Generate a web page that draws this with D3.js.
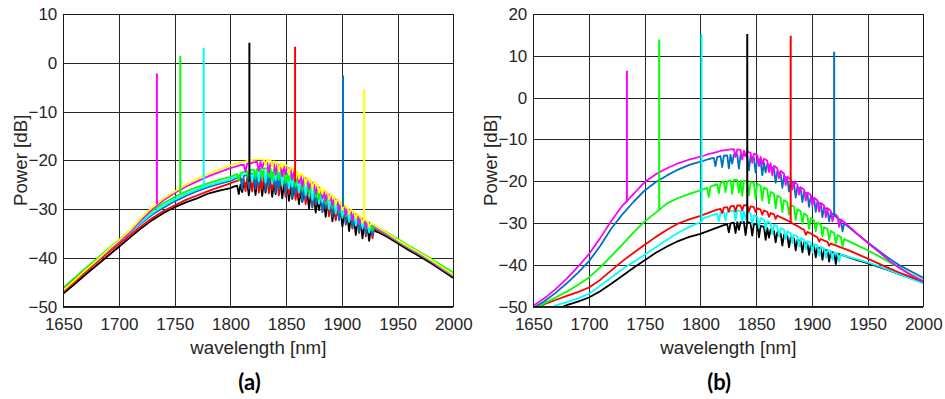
<!DOCTYPE html>
<html><head><meta charset="utf-8">
<script src="https://cdn.jsdelivr.net/npm/d3@7"></script>
<style>body{margin:0;background:#fff}svg{display:block}</style>
</head><body>
<svg id="c" width="945" height="399"></svg>
<script>
// shared wavelength sampling (nm)
const wavelengths = [1650,1660,1670,1680,1690,1700,1710,1720,1730,1740,1750,1760,1770,1780,1790,1800,
1803,1806,1809,1812,1815,1818,1821,1824,1827,1830,1833,1836,1839,1842,1845,1848,1851,1854,1857,1860,1863,1866,1869,1872,1875,1878,1881,1884,1887,1890,1893,1896,1899,1902,1905,1908,1911,1914,1917,1920,1923,1926,1929,1932,
1940,1950,1960,1970,1980,1990,2000];

const xTicks = [1650,1700,1750,1800,1850,1900,1950,2000];
const yTicksA = [-50,-40,-30,-20,-10,0,10];
const yTicksB = [-50,-40,-30,-20,-10,0,10,20];

// ---- panel (a) spectra (dB): envelope + narrow ripple dips [nm, dB] ----
const aBlack = [-47.3,-45.4,-43.4,-41.5,-39.6,-37.7,-35.8,-33.9,-32.2,-30.8,-29.6,-28.6,-27.8,-26.8,-26.2,-25.7,
-25.4,-25.2,-25.0,-24.8,-24.6,-24.5,-24.4,-24.3,-24.3,-24.3,-24.3,-24.4,-24.5,-24.7,-24.8,-25.0,-25.2,-25.4,-25.7,-26.0,-26.3,-26.6,-26.9,-27.2,-27.5,-27.9,-28.2,-28.6,-29.0,-29.4,-29.8,-30.2,-30.6,-31.0,-31.4,-31.8,-32.2,-32.6,-33.0,-33.4,-33.8,-34.1,-34.4,-34.7,
-35.6,-37.0,-38.4,-39.7,-41.1,-42.6,-44.1];
const aBlackDips = [[1807.5,-26.9],[1810.5,-26.5],[1816.5,-27.2],[1822.5,-27.1],[1828.5,-27.3],[1831.5,-26.6],[1837.5,-27.5],[1840.5,-26.9],[1846.5,-27.8],[1852.5,-28.3],[1855.5,-27.9],[1861.5,-29.0],[1864.5,-28.5],[1870.5,-29.9],[1876.5,-30.7],[1879.5,-30.2],[1885.5,-31.6],[1891.5,-32.5],[1894.5,-32.0],[1900.5,-33.6],[1906.5,-34.5],[1912.5,-35.3],[1918.5,-36.0],[1924.5,-36.5]];

const aRed = [-46.8,-44.9,-42.9,-40.9,-39.0,-37.2,-35.3,-33.5,-31.8,-30.4,-29.2,-28.1,-27.2,-26.3,-25.5,-24.7,
-24.4,-24.2,-24.0,-23.9,-23.7,-23.6,-23.5,-23.4,-23.4,-23.5,-23.5,-23.6,-23.8,-24.0,-24.1,-24.3,-24.5,-24.7,-25.0,-25.3,-25.6,-26.0,-26.3,-26.6,-26.9,-27.3,-27.6,-28.0,-28.4,-28.8,-29.2,-29.6,-30.0,-30.4,-30.8,-31.2,-31.6,-32.0,-32.4,-32.8,-33.2,-33.6,-33.9,-34.3,
-35.3,-36.7,-38.1,-39.4,-40.8,-42.3,-43.8];
const aRedDips = [[1813.5,-26.3],[1819.5,-26.4],[1825.5,-26.6],[1828.5,-25.9],[1834.5,-26.8],[1837.5,-26.1],[1843.5,-27.2],[1849.5,-27.5],[1852.5,-26.9],[1858.5,-28.1],[1861.5,-27.6],[1867.5,-29.0],[1873.5,-29.7],[1876.5,-29.2],[1882.5,-30.6],[1888.5,-31.5],[1894.5,-32.3],[1897.5,-31.8],[1903.5,-33.2],[1909.5,-34.0],[1915.5,-34.9],[1921.5,-35.6],[1927.5,-36.0]];

const aBlue = [-46.4,-44.4,-42.4,-40.5,-38.6,-36.7,-34.8,-32.9,-31.1,-29.7,-28.4,-27.3,-26.3,-25.5,-24.8,-24.2,
-23.9,-23.6,-23.4,-23.2,-23.0,-22.8,-22.7,-22.5,-22.4,-22.5,-22.4,-22.5,-22.6,-22.8,-23.0,-23.2,-23.5,-23.7,-24.1,-24.4,-24.7,-25.1,-25.4,-25.8,-26.2,-26.6,-27.0,-27.4,-27.8,-28.3,-28.7,-29.1,-29.6,-30.0,-30.4,-30.9,-31.3,-31.7,-32.1,-32.6,-33.0,-33.4,-33.7,-34.1,
-35.2,-36.6,-38.0,-39.3,-40.7,-42.2,-43.7];
const aBlueDips = [[1810.5,-25.9],[1816.5,-25.8],[1822.5,-25.9],[1825.5,-25.2],[1831.5,-26.2],[1834.5,-25.4],[1840.5,-26.6],[1843.5,-25.9],[1849.5,-27.0],[1855.5,-27.6],[1858.5,-27.0],[1864.5,-28.5],[1867.5,-27.9],[1873.5,-29.6],[1876.5,-28.9],[1882.5,-30.6],[1885.5,-29.9],[1891.5,-31.6],[1897.5,-32.3],[1903.5,-33.0],[1909.5,-33.8],[1915.5,-34.6],[1921.5,-35.2],[1927.5,-35.4]];

const aCyan = [-46.5,-44.5,-42.5,-40.5,-38.6,-36.7,-34.7,-32.7,-30.8,-29.3,-28.0,-26.9,-26.0,-25.2,-24.5,-23.9,
-23.6,-23.3,-23.1,-22.9,-22.7,-22.5,-22.4,-22.2,-22.1,-22.2,-22.1,-22.2,-22.3,-22.5,-22.7,-22.9,-23.2,-23.4,-23.8,-24.1,-24.4,-24.8,-25.2,-25.6,-26.0,-26.4,-26.8,-27.2,-27.6,-28.1,-28.5,-28.9,-29.5,-29.9,-30.3,-30.8,-31.2,-31.6,-32.0,-32.5,-32.9,-33.3,-33.6,-34.0,
-35.1,-36.5,-37.9,-39.2,-40.6,-42.1,-43.6];
const aCyanDips = [[1819.5,-24.4],[1825.5,-24.3],[1831.5,-24.5],[1837.5,-24.8],[1840.5,-24.1],[1846.5,-25.2],[1852.5,-25.8],[1855.5,-25.4],[1861.5,-26.6],[1867.5,-27.2],[1873.5,-28.1],[1879.5,-28.9],[1882.5,-28.6],[1888.5,-30.0],[1894.5,-30.9],[1900.5,-31.8],[1906.5,-32.6],[1912.5,-33.4],[1918.5,-34.0],[1924.5,-34.8]];

const aGreen = [-46.1,-44.1,-42.1,-40.2,-38.2,-36.3,-34.3,-32.2,-30.3,-28.8,-27.5,-26.4,-25.5,-24.7,-24.0,-23.4,
-23.1,-22.8,-22.6,-22.4,-22.2,-22.0,-21.9,-21.7,-21.6,-21.7,-21.6,-21.7,-21.8,-22.0,-22.2,-22.4,-22.7,-22.9,-23.3,-23.7,-24.0,-24.4,-24.8,-25.2,-25.6,-26.0,-26.4,-26.9,-27.3,-27.8,-28.2,-28.6,-29.2,-29.6,-30.0,-30.5,-30.9,-31.3,-31.7,-32.2,-32.6,-33.0,-33.3,-33.7,
-34.7,-36.1,-37.5,-38.8,-40.2,-41.6,-43.0];
const aGreenDips = [[1807.5,-24.1],[1816.5,-23.7],[1822.5,-23.5],[1828.5,-23.8],[1834.5,-23.4],[1837.5,-24.0],[1843.5,-24.0],[1849.5,-24.6],[1852.5,-24.2],[1858.5,-25.4],[1864.5,-26.1],[1870.5,-26.9],[1876.5,-27.6],[1879.5,-28.0],[1885.5,-28.9],[1891.5,-29.8],[1897.5,-30.6],[1903.5,-31.4],[1909.5,-32.3],[1915.5,-33.0],[1921.5,-33.9],[1927.5,-34.4]];

const aMagenta = [-46.5,-44.5,-42.5,-40.5,-38.6,-36.7,-34.6,-32.2,-30.0,-28.2,-26.7,-25.4,-24.3,-23.3,-22.4,-21.6,
-21.4,-21.2,-21.0,-20.9,-20.7,-20.6,-20.4,-20.3,-20.3,-20.4,-20.4,-20.5,-20.6,-20.8,-21.0,-21.2,-21.5,-21.8,-22.2,-22.6,-23.0,-23.5,-23.9,-24.4,-24.8,-25.3,-25.8,-26.3,-26.8,-27.3,-27.8,-28.3,-28.9,-29.4,-29.9,-30.4,-30.9,-31.3,-31.8,-32.3,-32.7,-33.2,-33.5,-33.9,
-35.0,-36.4,-37.8,-39.1,-40.5,-42.0,-43.5];
const aMagentaDips = [[1813.5,-22.3],[1825.5,-22.2],[1828.5,-21.6],[1834.5,-22.5],[1840.5,-22.9],[1846.5,-23.3],[1849.5,-22.8],[1855.5,-24.0],[1861.5,-24.6],[1864.5,-25.4],[1870.5,-25.9],[1876.5,-26.9],[1882.5,-27.8],[1885.5,-28.4],[1891.5,-29.3],[1897.5,-30.4],[1903.5,-31.2],[1909.5,-32.3],[1915.5,-33.0],[1921.5,-33.8]];

const aYellow = [-46.6,-44.6,-42.5,-40.5,-38.4,-36.4,-34.3,-31.8,-29.6,-27.8,-26.4,-25.0,-23.8,-22.8,-21.9,-21.0,
-20.8,-20.6,-20.4,-20.3,-20.1,-20.0,-19.9,-19.8,-19.8,-19.9,-19.9,-20.0,-20.2,-20.4,-20.6,-20.8,-21.1,-21.4,-21.8,-22.3,-22.7,-23.2,-23.6,-24.1,-24.5,-25.0,-25.5,-26.0,-26.5,-27.0,-27.5,-28.0,-28.6,-29.1,-29.6,-30.1,-30.6,-31.0,-31.5,-32.0,-32.4,-32.9,-33.3,-33.7,
-34.8,-36.3,-37.7,-39.0,-40.4,-41.9,-43.4];
const aYellowDips = [[1831.5,-21.0],[1837.5,-21.3],[1843.5,-21.9],[1846.5,-21.6],[1852.5,-22.6],[1858.5,-23.4],[1861.5,-23.8],[1867.5,-24.8],[1873.5,-25.6],[1879.5,-26.6],[1882.5,-26.9],[1888.5,-28.0],[1894.5,-29.0],[1900.5,-30.2],[1906.5,-31.0],[1912.5,-31.9],[1918.5,-32.8],[1924.5,-33.6]];

// laser lines (a): magenta, green, cyan, black, red, blue, yellow
const spikeWlA   = [1734, 1755, 1776, 1817, 1858, 1901, 1920];
const spikePeakA = [-2.2, 1.4, 3.1, 4.1, 3.3, -2.6, -5.4];
const spikeBaseA = [-29.0, -27.0, -25.5, -24.4, -24.5, -29.5, -32.0];

// ---- panel (b) spectra (dB): envelope + narrow ripple dips [nm, dB] ----
const bBlack = [-54.0,-52.4,-50.8,-49.6,-48.8,-47.8,-46.3,-44.5,-42.6,-40.7,-38.9,-37.1,-35.6,-34.3,-33.3,-32.6,
-32.3,-32.0,-31.7,-31.4,-31.1,-30.8,-30.5,-30.3,-30.1,-29.9,-29.8,-29.8,-29.7,-29.8,-30.0,-30.2,-30.4,-30.7,-30.9,-31.2,-31.5,-31.9,-32.2,-32.5,-32.8,-33.1,-33.4,-33.7,-34.0,-34.3,-34.6,-34.9,-35.2,-35.5,-35.8,-36.1,-36.4,-36.6,-36.9,-37.1,-37.3,-37.6,-37.8,-38.1,
-38.8,-39.6,-40.5,-41.4,-42.4,-43.3,-44.2];
const bBlackDips = [[1825.5,-32.2],[1831.5,-32.4],[1834.5,-31.6],[1840.5,-32.9],[1846.5,-33.0],[1852.5,-33.4],[1858.5,-34.0],[1861.5,-33.5],[1867.5,-34.6],[1873.5,-35.4],[1879.5,-35.8],[1885.5,-36.5],[1891.5,-37.0],[1897.5,-37.6],[1903.5,-38.2],[1909.5,-38.8],[1915.5,-39.2],[1921.5,-39.8]];

const bCyan = [-53.5,-51.6,-49.7,-48.9,-48.0,-46.9,-45.0,-43.0,-41.0,-39.3,-37.6,-35.8,-34.0,-32.3,-30.9,-29.8,
-28.8,-28.5,-28.3,-28.0,-27.8,-27.6,-27.4,-27.3,-27.1,-27.0,-27.0,-27.1,-27.2,-27.4,-27.7,-28.1,-28.5,-28.8,-29.2,-29.6,-30.0,-30.4,-30.8,-31.2,-31.6,-32.0,-32.4,-32.8,-33.2,-33.6,-34.0,-34.3,-34.7,-35.0,-35.4,-35.7,-36.1,-36.4,-36.7,-37.0,-37.3,-37.5,-37.8,-38.0,
-38.6,-39.4,-40.3,-41.3,-42.4,-43.4,-44.4];
const bCyanDips = [[1816.5,-29.6],[1822.5,-29.4],[1831.5,-29.3],[1837.5,-29.8],[1840.5,-29.0],[1846.5,-30.4],[1852.5,-31.0],[1858.5,-31.6],[1864.5,-32.6],[1870.5,-33.2],[1876.5,-33.9],[1882.5,-34.8],[1888.5,-35.6],[1894.5,-36.3],[1900.5,-37.0],[1906.5,-37.8],[1912.5,-38.3],[1918.5,-38.8],[1924.5,-39.2]];

const bRed = [-51.0,-49.4,-48.4,-47.4,-46.5,-45.4,-43.6,-41.3,-39.1,-37.1,-35.2,-33.3,-31.6,-30.1,-29.1,-28.3,
-28.0,-27.7,-27.4,-27.1,-26.8,-26.6,-26.3,-26.2,-26.0,-25.9,-25.8,-25.8,-25.7,-25.8,-26.0,-26.2,-26.5,-26.8,-27.0,-27.3,-27.6,-27.9,-28.2,-28.6,-29.0,-29.4,-29.8,-30.3,-30.7,-31.2,-31.6,-32.1,-32.5,-33.0,-33.4,-33.8,-34.2,-34.5,-34.9,-35.2,-35.5,-35.8,-36.1,-36.4,
-37.3,-38.5,-39.7,-40.9,-42.0,-43.0,-44.0];
const bRedDips = [[1819.5,-27.6],[1825.5,-27.3],[1831.5,-27.2],[1837.5,-27.0],[1843.5,-27.2],[1849.5,-27.4],[1855.5,-28.0],[1861.5,-28.5],[1867.5,-29.0],[1894.5,-32.8],[1906.5,-34.4],[1915.5,-35.4]];

const bGreen = [-50.8,-49.2,-47.8,-46.4,-44.8,-43.0,-40.6,-37.9,-35.1,-32.2,-29.6,-27.5,-25.3,-24.0,-23.0,-22.2,
-21.9,-21.6,-21.3,-21.0,-20.7,-20.4,-20.1,-20.0,-19.8,-19.7,-19.7,-19.8,-19.9,-20.0,-20.2,-20.4,-20.6,-21.1,-21.5,-22.0,-22.5,-23.0,-23.4,-24.0,-24.5,-25.0,-25.6,-26.1,-26.7,-27.2,-27.7,-28.3,-28.8,-29.4,-29.9,-30.4,-31.0,-31.4,-31.9,-32.4,-32.9,-33.3,-33.8,-34.2,
-35.2,-36.5,-37.9,-39.4,-40.9,-42.4,-43.8];
const bGreenDips = [[1807.5,-23.8],[1816.5,-22.9],[1822.5,-22.6],[1828.5,-23.0],[1834.5,-22.7],[1837.5,-23.5],[1843.5,-23.4],[1849.5,-24.2],[1855.5,-24.6],[1861.5,-25.3],[1867.5,-26.5],[1873.5,-27.4],[1879.5,-28.0],[1885.5,-29.3],[1891.5,-30.2],[1897.5,-31.4],[1903.5,-32.0],[1909.5,-33.2],[1915.5,-34.0],[1921.5,-35.0],[1927.5,-35.6]];

const bBlue = [-50.3,-48.7,-46.7,-44.4,-41.9,-39.1,-35.5,-31.3,-27.9,-24.9,-22.2,-20.2,-18.6,-17.2,-16.1,-15.3,
-15.1,-14.8,-14.6,-14.4,-14.2,-14.0,-13.9,-13.8,-13.7,-13.6,-13.6,-13.7,-13.8,-13.9,-14.1,-14.4,-14.6,-15.1,-15.5,-15.9,-16.5,-17.0,-17.6,-18.2,-18.8,-19.4,-20.0,-20.6,-21.3,-21.9,-22.5,-23.1,-23.7,-24.3,-24.9,-25.6,-26.2,-26.8,-27.5,-28.1,-28.8,-29.4,-30.1,-30.7,
-32.5,-34.6,-36.6,-38.6,-40.3,-41.7,-43.1];
const bBlueDips = [[1813.5,-16.4],[1819.5,-16.6],[1825.5,-16.9],[1828.5,-15.8],[1834.5,-17.0],[1843.5,-17.4],[1849.5,-17.9],[1855.5,-18.6],[1858.5,-17.9],[1867.5,-20.4],[1873.5,-21.6],[1879.5,-22.5],[1885.5,-23.9],[1891.5,-25.0],[1897.5,-26.1],[1903.5,-27.3],[1909.5,-28.6],[1915.5,-29.6],[1927.5,-32.0]];

const bMagenta = [-49.8,-48.0,-45.8,-43.3,-40.5,-37.4,-33.6,-29.5,-25.8,-23.0,-20.2,-18.3,-16.9,-15.7,-14.8,-14.1,
-13.9,-13.6,-13.4,-13.2,-13.0,-12.7,-12.6,-12.5,-12.4,-12.3,-12.4,-12.5,-12.7,-12.9,-13.2,-13.4,-13.8,-14.2,-14.6,-15.1,-15.7,-16.3,-16.9,-17.5,-18.2,-18.9,-19.5,-20.1,-20.8,-21.4,-22.0,-22.7,-23.3,-23.9,-24.6,-25.2,-25.8,-26.4,-27.1,-27.7,-28.4,-29.1,-29.8,-30.5,
-32.4,-34.7,-36.9,-39.1,-41.0,-42.6,-44.0];
const bMagentaDips = [[1831.5,-14.2],[1837.5,-14.8],[1840.5,-13.9],[1846.5,-15.6],[1852.5,-16.4],[1855.5,-15.9],[1861.5,-17.8],[1864.5,-18.6],[1870.5,-19.3],[1876.5,-20.9],[1882.5,-22.0],[1888.5,-23.2],[1894.5,-24.6],[1900.5,-25.9],[1906.5,-27.3],[1912.5,-28.6],[1918.5,-29.6],[1924.5,-30.9]];

// laser lines (b): magenta, green, cyan, black, red, blue
const spikeWlB   = [1734, 1763, 1801, 1842, 1881, 1920];
const spikePeakB = [6.4, 13.9, 15.2, 15.2, 14.8, 11.0];
const spikeBaseB = [-25.0, -27.0, -29.8, -30.0, -29.9, -28.5];

const C = {black:'#000000', red:'#FF0000', blue:'#0072BD', cyan:'#00FFFF', green:'#00FF00', magenta:'#FF00FF', yellow:'#FFFF00'};

const svg = d3.select('#c');
const FONT = '"Liberation Sans", Arial, Helvetica, sans-serif';

function drawPanel(cfg) {
  const {id, left, right, top, bottom, yDomain, yTicks, series, spikes, tag, tagX} = cfg;
  const x = d3.scaleLinear().domain([1650, 2000]).range([left, right]);
  const y = d3.scaleLinear().domain(yDomain).range([bottom, top]);
  const g = svg.append('g');

  const gx = g.append('g').attr('transform', `translate(0,${bottom})`)
    .call(d3.axisBottom(x).tickValues(xTicks).tickFormat(d3.format('d'))
      .tickSizeInner(-(bottom - top)).tickSizeOuter(0).tickPadding(11.2));
  const gy = g.append('g').attr('transform', `translate(${left},0)`)
    .call(d3.axisLeft(y).tickValues(yTicks).tickFormat(d3.format('d'))
      .tickSizeInner(-(right - left)).tickSizeOuter(0).tickPadding(6));
  [gx, gy].forEach(a => {
    a.select('.domain').remove();
    a.selectAll('line').attr('stroke', '#262626').attr('stroke-width', 1)
      .attr('shape-rendering', 'crispEdges');
    a.selectAll('text').attr('font-family', FONT).attr('font-size', 17).attr('fill', '#262626');
  });

  svg.append('clipPath').attr('id', 'clip' + id)
    .append('rect').attr('x', left).attr('y', top).attr('width', right - left).attr('height', bottom - top);
  const plot = g.append('g').attr('clip-path', `url(#clip${id})`);

  const line = d3.line().x(d => x(d[0])).y(d => y(d[1]));
  series.forEach(s => {
    let pts = wavelengths.map((w, i) => [w, s.values[i]]).filter(d => d[1] !== undefined);
    if (s.dips) pts = pts.concat(s.dips).sort((p, q) => p[0] - q[0]);
    plot.append('path').datum(pts).attr('d', line)
      .attr('fill', 'none').attr('stroke', s.color).attr('stroke-width', 1.8)
      .attr('stroke-linejoin', 'round');
  });
  spikes.wl.forEach((w, i) => {
    plot.append('line')
      .attr('x1', x(w)).attr('x2', x(w))
      .attr('y1', y(spikes.base[i])).attr('y2', y(spikes.peak[i]))
      .attr('stroke', spikes.colors[i]).attr('stroke-width', 2);
  });

  g.append('rect').attr('x', left).attr('y', top).attr('width', right - left).attr('height', bottom - top)
    .attr('fill', 'none').attr('stroke', '#1a1a1a').attr('stroke-width', 1).attr('shape-rendering', 'crispEdges');

  g.append('text').attr('x', (left + right) / 2).attr('y', 354).attr('text-anchor', 'middle')
    .attr('font-family', FONT).attr('font-size', 18.7).attr('fill', '#262626').text('wavelength [nm]');
  g.append('text').attr('transform', `translate(${left - 36.8},${(top + bottom) / 2}) rotate(-90)`)
    .attr('text-anchor', 'middle').attr('font-family', FONT).attr('font-size', 18.7).attr('fill', '#262626')
    .text('Power [dB]');
  g.append('text').attr('x', tagX).attr('y', 389.5).attr('text-anchor', 'middle')
    .attr('font-family', 'Lato, "Open Sans", sans-serif').attr('font-weight', 700).attr('font-size', 22)
    .attr('fill', '#000').text(tag);
}

drawPanel({
  id: 'a', left: 63.3, right: 453.3, top: 14, bottom: 306.7,
  yDomain: [-50, 10], yTicks: yTicksA,
  series: [
    {values: aBlack, dips: aBlackDips, color: C.black}, {values: aRed, dips: aRedDips, color: C.red},
    {values: aBlue, dips: aBlueDips, color: C.blue}, {values: aCyan, dips: aCyanDips, color: C.cyan},
    {values: aGreen, dips: aGreenDips, color: C.green}, {values: aMagenta, dips: aMagentaDips, color: C.magenta},
    {values: aYellow, dips: aYellowDips, color: C.yellow}
  ],
  spikes: {wl: spikeWlA, peak: spikePeakA, base: spikeBaseA,
    colors: [C.magenta, C.green, C.cyan, C.black, C.red, C.blue, C.yellow]},
  tag: '(a)', tagX: 249.5
});

drawPanel({
  id: 'b', left: 533.3, right: 923.3, top: 14, bottom: 306.7,
  yDomain: [-50, 20], yTicks: yTicksB,
  series: [
    {values: bBlack, dips: bBlackDips, color: C.black}, {values: bCyan, dips: bCyanDips, color: C.cyan},
    {values: bRed, dips: bRedDips, color: C.red}, {values: bGreen, dips: bGreenDips, color: C.green},
    {values: bBlue, dips: bBlueDips, color: C.blue}, {values: bMagenta, dips: bMagentaDips, color: C.magenta}
  ],
  spikes: {wl: spikeWlB, peak: spikePeakB, base: spikeBaseB,
    colors: [C.magenta, C.green, C.cyan, C.black, C.red, C.blue]},
  tag: '(b)', tagX: 719.2
});
</script>
</body></html>
